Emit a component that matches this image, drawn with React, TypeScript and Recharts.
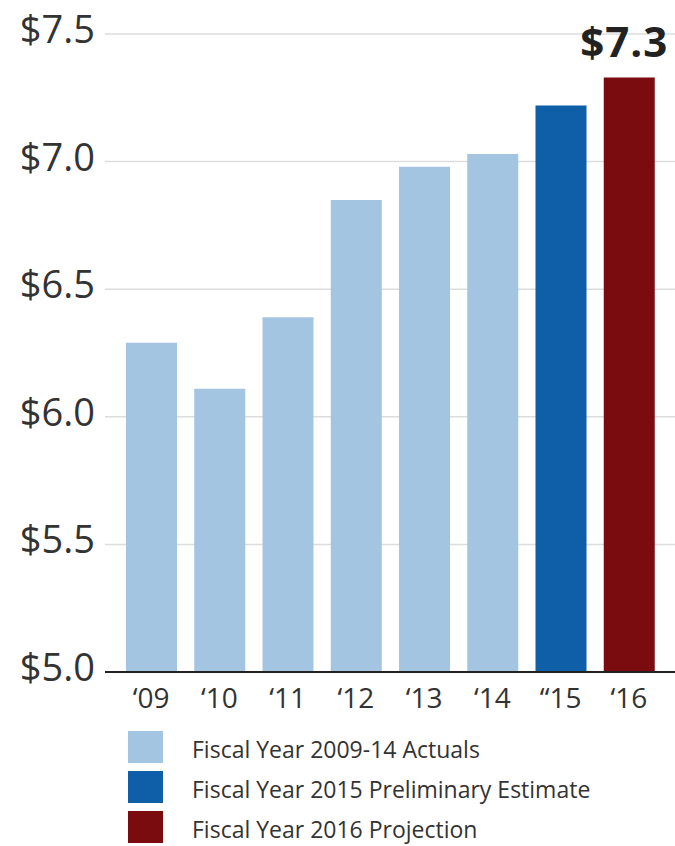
import React from 'react';
import { BarChart, Bar, XAxis, YAxis, CartesianGrid, Cell, LabelList, Legend } from 'recharts';

const years = ['‘09', '‘10', '‘11', '‘12', '‘13', '‘14', '“15', '‘16'];
const values = [6.29, 6.11, 6.39, 6.85, 6.98, 7.03, 7.22, 7.33];
const kinds = ['actual', 'actual', 'actual', 'actual', 'actual', 'actual', 'estimate', 'projection'];
const yTicks = [5.0, 5.5, 6.0, 6.5, 7.0, 7.5];

const legendItems = [
  { key: 'actual', label: 'Fiscal Year 2009-14 Actuals' },
  { key: 'estimate', label: 'Fiscal Year 2015 Preliminary Estimate' },
  { key: 'projection', label: 'Fiscal Year 2016 Projection' },
];

const COLORS: Record<string, string> = {
  actual: '#a4c5e2',
  estimate: '#0f5fa8',
  projection: '#7a0c10',
};

const FONT = '"Open Sans", sans-serif';

const data = years.map((year, i) => ({
  year,
  value: values[i],
  kind: kinds[i],
  label: i === years.length - 1 ? `$${values[i].toFixed(1)}` : '',
}));

function YTick({ x, y, payload }: any) {
  return (
    <text x={x} y={y} dy={9} textAnchor="end" fontSize={38} fill="#333" fontFamily={FONT}>
      {`$${Number(payload.value).toFixed(1)}`}
    </text>
  );
}

// only the last bar carries a value label
function TopLabel(props: any) {
  const { x, y, width, value } = props;
  if (!value) return null;
  return (
    <text x={x + width / 2 - 5} y={y - 20} textAnchor="middle" fontSize={42} fontWeight={700} letterSpacing={1} fill="#222" fontFamily={FONT}>
      {value}
    </text>
  );
}

function LegendBox() {
  return (
    <div style={{ height: 126, paddingTop: 11, boxSizing: 'border-box', fontFamily: FONT }}>
      {legendItems.map((item) => (
        <div key={item.key} style={{ display: 'flex', alignItems: 'center', height: 32, marginBottom: 8 }}>
          <div style={{ width: 35, height: 32, marginLeft: 128, background: COLORS[item.key], flexShrink: 0 }} />
          <span style={{ marginLeft: 29, fontSize: 23, lineHeight: '24px', color: '#333', position: 'relative', top: 2, whiteSpace: 'nowrap' }}>
            {item.label}
          </span>
        </div>
      ))}
    </div>
  );
}

export default function App() {
  return (
    <div style={{ position: 'absolute', left: 0, top: 0, background: '#fff' }}>
      <BarChart width={675} height={846} data={data} margin={{ top: 34, right: 0, left: 0, bottom: 0 }}>
        <CartesianGrid vertical={false} stroke="#dddddd" strokeWidth={1.5} />
        <XAxis
          dataKey="year"
          height={48}
          padding={{ left: 12, right: 12 }}
          axisLine={{ stroke: '#222', strokeWidth: 2 }}
          tickLine={false}
          tickSize={0}
          tickMargin={16}
          tick={{ fontSize: 28, fill: '#333', fontFamily: FONT }}
          interval={0}
        />
        <YAxis
          domain={[5, 7.5]}
          ticks={yTicks}
          width={105}
          axisLine={false}
          tickLine={false}
          tickSize={0}
          tickMargin={10}
          tick={<YTick />}
          interval={0}
        />
        <Legend verticalAlign="bottom" align="left" content={<LegendBox />} wrapperStyle={{ left: 0, width: 675 }} />
        <Bar dataKey="value" barSize={51} isAnimationActive={false}>
          {data.map((d, i) => (
            <Cell key={`cell-${i}`} fill={COLORS[d.kind]} />
          ))}
          <LabelList dataKey="label" content={<TopLabel />} />
        </Bar>
      </BarChart>
    </div>
  );
}
